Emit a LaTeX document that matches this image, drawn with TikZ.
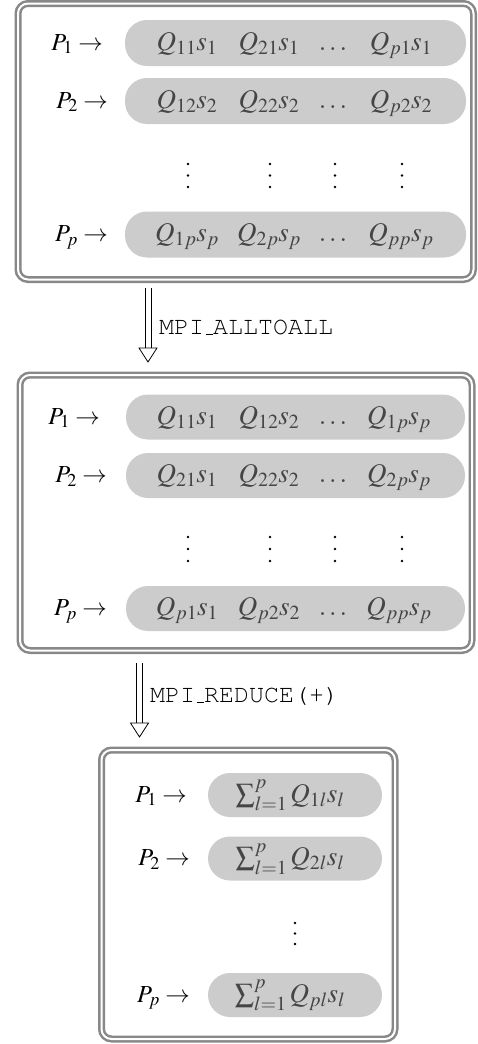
\documentclass[tikz,border=0pt]{standalone}
\usepackage{mathptmx}
\usetikzlibrary{calc}
\definecolor{boxgray}{HTML}{888888}
\definecolor{pillgray}{HTML}{CCCCCC}
\definecolor{pilltext}{HTML}{454545}
\newcommand{\mycour}{\fontencoding{OT1}\fontfamily{pcr}\selectfont}
\begin{document}
\begin{tikzpicture}[x=1pt,y=-1pt,
  frame/.style={draw=boxgray, line width=2.5pt, double=white, double distance=2pt,
    rounded corners=10pt, inner sep=0pt, outer sep=0pt, rectangle},
  pill/.style={fill=pillgray, rounded corners=22pt, inner sep=0pt, outer sep=0pt, rectangle},
  lbl/.style={font=\fontsize{24.5}{29}\selectfont, inner sep=0pt, text=black},
  ptxt/.style={font=\fontsize{27}{32}\selectfont, inner sep=0pt, text=pilltext},
  mpi/.style={font=\fontsize{25}{30}\mycour, inner sep=0pt, text=black},
  vdot/.style={circle, fill=black, inner sep=0pt, minimum size=2.8pt},
  arr/.style={line width=0.8pt, draw=black}]
\useasboundingbox (0,0) rectangle (477,1044);
% frames
\node[frame, minimum width=455.5pt, minimum height=276pt] (box1) at (245.75,141.5) {};
\node[frame, minimum width=452pt, minimum height=275.5pt] (box2) at (246,512.75) {};
\node[frame, minimum width=293.5pt, minimum height=289pt] (box3) at (248.25,894.5) {};
% pills box1
\node[pill, minimum width=341pt, minimum height=46pt] (r11) at (295.5,43) {};
\node[pill, minimum width=341pt, minimum height=46pt] (r12) at (295.5,101) {};
\node[pill, minimum width=341pt, minimum height=46pt] (r1p) at (295.5,234.5) {};
% pills box2
\node[pill, minimum width=339pt, minimum height=45pt] (r21) at (295.5,417) {};
\node[pill, minimum width=339pt, minimum height=45pt] (r22) at (295.5,475.5) {};
\node[pill, minimum width=339pt, minimum height=45pt] (r2p) at (295.5,608.5) {};
% pills box3
\node[pill, minimum width=174pt, minimum height=44pt] (r31) at (295,795) {};
\node[pill, minimum width=174pt, minimum height=44pt] (r32) at (295,858.5) {};
\node[pill, minimum width=174pt, minimum height=44pt] (r3p) at (295,995) {};
% labels box1
\node[lbl, anchor=base east] (p11) at (103,50) {$P_1\rightarrow$};
\node[lbl, anchor=base east] (p12) at (108,108) {$P_2\rightarrow$};
\node[lbl, anchor=base east] (p1p) at (108,241.5) {$P_p\rightarrow$};
% box1 contents
\node[ptxt, anchor=base] (a11) at (187,50) {$Q_{11}s_1$};
\node[ptxt, anchor=base] (a12) at (269,50) {$Q_{21}s_1$};
\node[ptxt, anchor=base] (a13) at (333,50) {$\dots$};
\node[ptxt, anchor=base] (a14) at (401,50) {$Q_{p1}s_1$};
\node[ptxt, anchor=base] (b11) at (187,108) {$Q_{12}s_2$};
\node[ptxt, anchor=base] (b12) at (269,108) {$Q_{22}s_2$};
\node[ptxt, anchor=base] (b13) at (333,108) {$\dots$};
\node[ptxt, anchor=base] (b14) at (401,108) {$Q_{p2}s_2$};
\foreach \x/\n in {188/1,270/2,335/3,402/4}{
  \node[vdot] (d1\n a) at (\x,164) {};
  \node[vdot] (d1\n b) at (\x,175.5) {};
  \node[vdot] (d1\n c) at (\x,187) {};
}
\node[ptxt, anchor=base] (c11) at (187,241.5) {$Q_{1p}s_p$};
\node[ptxt, anchor=base] (c12) at (269,241.5) {$Q_{2p}s_p$};
\node[ptxt, anchor=base] (c13) at (333,241.5) {$\dots$};
\node[ptxt, anchor=base] (c14) at (401,241.5) {$Q_{pp}s_p$};
% arrow 1
\coordinate (s1) at (148,288);
\coordinate (e1) at (148,362);
\draw[arr] ([xshift=-3pt]s1) -- ([xshift=-3pt,yshift=14pt]e1);
\draw[arr] ([xshift=3pt]s1) -- ([xshift=3pt,yshift=14pt]e1);
\draw[arr, fill=white] ([xshift=-9pt,yshift=14pt]e1) -- (e1) -- ([xshift=9pt,yshift=14pt]e1) -- cycle;
\node[mpi, anchor=west] (m1) at (159,327) {MPI\_ALLTOALL};
% labels box2
\node[lbl, anchor=base east] (p21) at (100,424) {$P_1\rightarrow$};
\node[lbl, anchor=base east] (p22) at (107,482.5) {$P_2\rightarrow$};
\node[lbl, anchor=base east] (p2p) at (107,615.5) {$P_p\rightarrow$};
% box2 contents
\node[ptxt, anchor=base] (e11) at (187,424) {$Q_{11}s_1$};
\node[ptxt, anchor=base] (e12) at (269,424) {$Q_{12}s_2$};
\node[ptxt, anchor=base] (e13) at (333,424) {$\dots$};
\node[ptxt, anchor=base] (e14) at (399,424) {$Q_{1p}s_p$};
\node[ptxt, anchor=base] (f11) at (187,482.5) {$Q_{21}s_1$};
\node[ptxt, anchor=base] (f12) at (269,482.5) {$Q_{22}s_2$};
\node[ptxt, anchor=base] (f13) at (333,482.5) {$\dots$};
\node[ptxt, anchor=base] (f14) at (399,482.5) {$Q_{2p}s_p$};
\foreach \x/\n in {188/1,270/2,335/3,402/4}{
  \node[vdot] (d2\n a) at (\x,537) {};
  \node[vdot] (d2\n b) at (\x,549) {};
  \node[vdot] (d2\n c) at (\x,561) {};
}
\node[ptxt, anchor=base] (g11) at (187,615.5) {$Q_{p1}s_1$};
\node[ptxt, anchor=base] (g12) at (269,615.5) {$Q_{p2}s_2$};
\node[ptxt, anchor=base] (g13) at (333,615.5) {$\dots$};
\node[ptxt, anchor=base] (g14) at (399,615.5) {$Q_{pp}s_p$};
% arrow 2
\coordinate (s2) at (139.5,663);
\coordinate (e2) at (139.5,737);
\draw[arr] ([xshift=-3pt]s2) -- ([xshift=-3pt,yshift=14pt]e2);
\draw[arr] ([xshift=3pt]s2) -- ([xshift=3pt,yshift=14pt]e2);
\draw[arr, fill=white] ([xshift=-9pt,yshift=14pt]e2) -- (e2) -- ([xshift=9pt,yshift=14pt]e2) -- cycle;
\node[mpi, anchor=west] (m2) at (150,696) {MPI\_REDUCE(+)};
% box3
\node[lbl, anchor=base east] (p31) at (187,802) {$P_1\rightarrow$};
\node[lbl, anchor=base east] (p32) at (190,865.5) {$P_2\rightarrow$};
\node[lbl, anchor=base east] (p3p) at (190,1002) {$P_p\rightarrow$};
\node[ptxt, anchor=base] (h1) at (290,802) {$\sum_{l=1}^{p} Q_{1l}s_l$};
\node[ptxt, anchor=base] (h2) at (290,865.5) {$\sum_{l=1}^{p} Q_{2l}s_l$};
\node[vdot] (d31) at (295,923) {};
\node[vdot] (d32) at (295,933.5) {};
\node[vdot] (d33) at (295,944) {};
\node[ptxt, anchor=base] (h3) at (290,1002) {$\sum_{l=1}^{p} Q_{pl}s_l$};
\end{tikzpicture}
\end{document}
